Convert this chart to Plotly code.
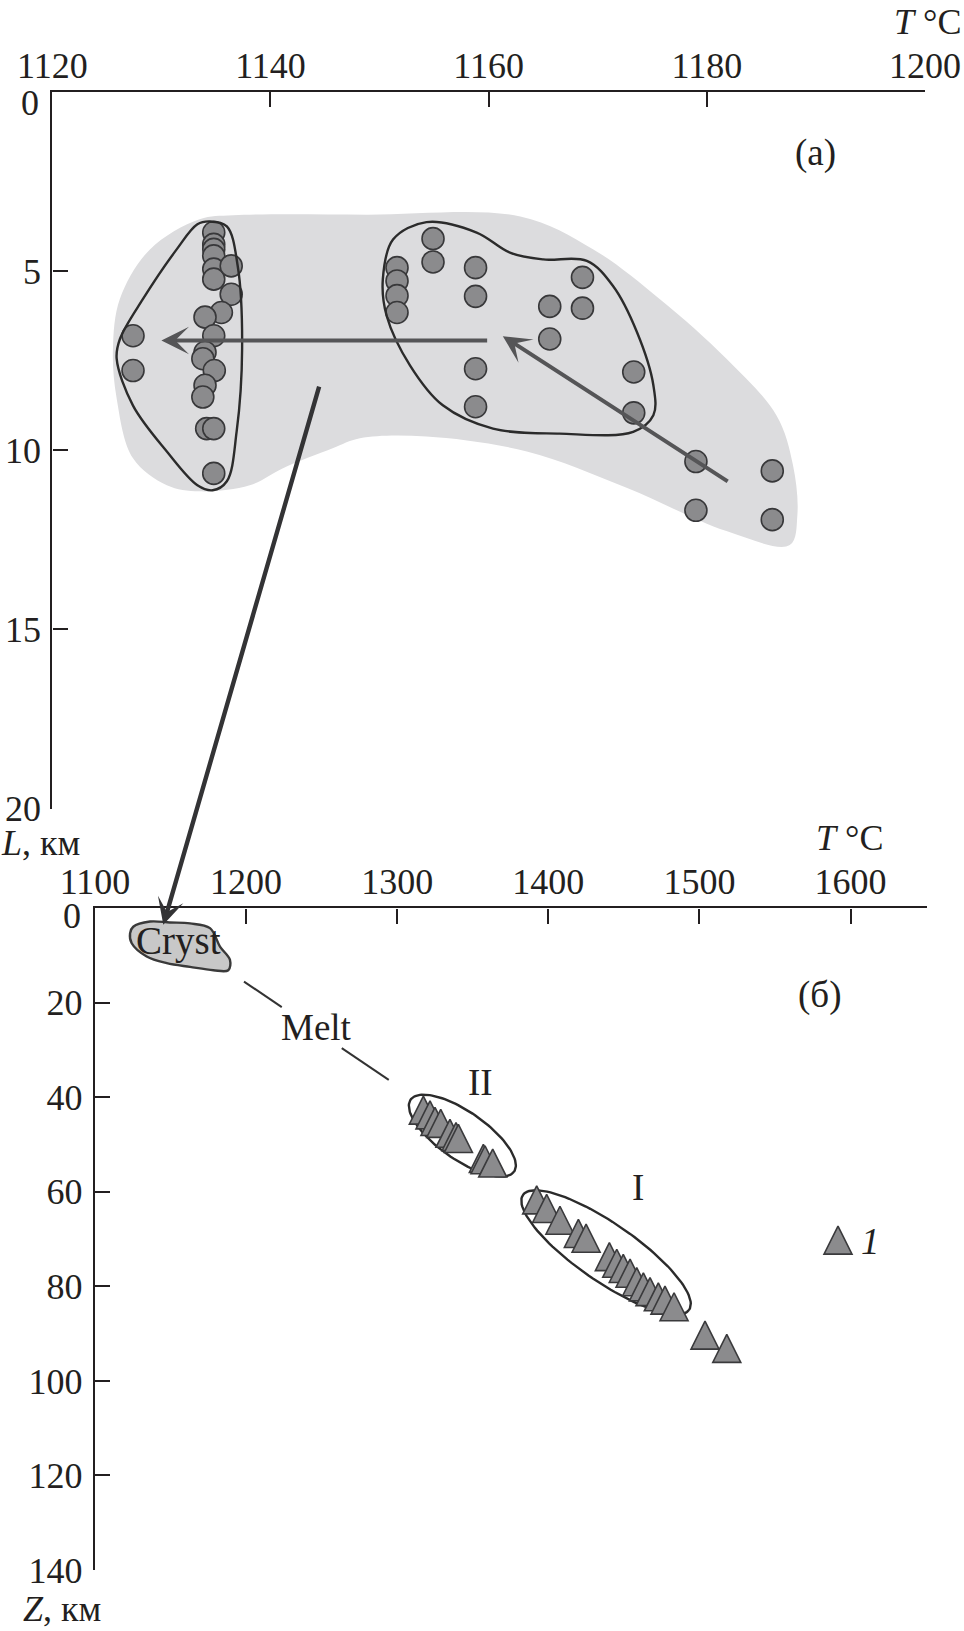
import numpy as np
import plotly.graph_objects as go

W, H = 964, 1631
FONT = "Liberation Serif, Times New Roman, serif"
INK = "#231f20"

# ---------------- panel (а): T (°C) vs L (km) ----------------
a_T = [1134.8, 1134.8, 1134.8, 1134.8, 1134.8, 1134.8, 1136.4, 1136.4, 1135.5, 1134.0,
       1134.8, 1134.0, 1133.8, 1134.85, 1134.0, 1133.8, 1134.15, 1134.8, 1134.8, 1127.4, 1127.4,
       1151.6, 1151.6, 1151.6, 1151.6, 1154.9, 1154.9, 1158.8, 1158.8, 1158.8, 1158.8,
       1165.6, 1165.6, 1168.6, 1168.6, 1173.3, 1173.3, 1179.0, 1179.0, 1186.0, 1186.0]
a_L = [3.93, 4.26, 4.40, 4.58, 4.95, 5.23, 4.86, 5.65, 6.16, 6.29,
       6.81, 7.27, 7.45, 7.78, 8.19, 8.52, 9.40, 9.40, 10.65, 6.81, 7.78,
       4.91, 5.28, 5.69, 6.16, 4.10, 4.75, 4.91, 5.71, 7.73, 8.79,
       5.99, 6.90, 5.18, 6.04, 7.82, 8.96, 10.32, 11.68, 10.58, 11.94]

# grey envelope
env_T = [1126.2, 1128.95, 1133.5, 1136.6, 1148.8, 1162.9, 1169.6, 1175.7, 1181.8, 1186.4,
         1187.9, 1188.3, 1187.6, 1181.8, 1172.7, 1163.5, 1154.3, 1148.2, 1145.7, 1141.1,
         1138.1, 1133.5, 1130.5, 1127.4, 1125.9, 1125.56]
env_L = [5.78, 4.40, 3.56, 3.45, 3.43, 3.48, 4.40, 5.79, 7.45, 9.04,
         10.42, 11.81, 12.65, 12.26, 11.06, 10.04, 9.62, 9.67, 9.95, 10.51,
         10.98, 11.15, 10.98, 10.23, 8.56, 7.17]
# left contour
left_T = [1137.4, 1136.9, 1136.0, 1134.7, 1133.3, 1130.5, 1127.4, 1125.9, 1126.2, 1128.3,
          1131.4, 1133.3, 1134.45, 1136.0, 1137.0]
left_L = [7.17, 9.48, 10.87, 11.12, 10.98, 10.04, 8.76, 7.45, 6.90, 5.79,
          4.40, 3.70, 3.62, 3.76, 4.87]
# right contour
right_T = [1165.0, 1169.0, 1171.4, 1173.6, 1175.1, 1175.1, 1173.25, 1166.5, 1160.4, 1155.8,
           1152.8, 1150.65, 1150.3, 1151.25, 1154.3, 1158.9, 1161.95]
right_L = [4.68, 4.72, 5.42, 6.71, 8.19, 9.03, 9.49, 9.54, 9.40, 8.75,
           7.64, 6.25, 5.23, 4.12, 3.64, 3.93, 4.49]

# arrows (tail -> head)
arr_h = dict(T0=1160.0, L0=6.94, T1=1130.0, L1=6.94)
arr_d = dict(T0=1182.05, L0=10.9, T1=1161.3, L1=6.82)
arr_long = dict(T0=1144.5, L0=8.19, T1=1145.2, Z1=3.5)

# ---------------- panel (б): T (°C) vs Z (km) ----------------
b_T = [1317.3, 1321.7, 1325.0, 1328.8, 1334.9, 1338.9, 1340.5, 1357.0, 1358.1, 1363.2,
       1392.3, 1398.9, 1407.7, 1419.9, 1425.0, 1440.4, 1445.3, 1449.6, 1454.1, 1458.5,
       1462.9, 1467.3, 1472.8, 1477.2, 1483.2, 1503.7, 1518.1]
b_Z = [42.7, 43.7, 45.1, 45.5, 47.6, 48.3, 48.7, 52.9, 53.2, 53.9,
       61.7, 63.5, 66.0, 68.8, 69.8, 73.7, 75.1, 76.2, 77.2, 79.0,
       80.1, 81.1, 82.2, 82.9, 84.3, 90.3, 93.1]

cryst_T = [1125.3, 1136.4, 1149.6, 1162.9, 1176.1, 1182.7, 1189.3, 1188.2, 1178.3, 1162.9,
           1147.5, 1134.2, 1124.3, 1123.2]
cryst_Z = [3.9, 2.8, 3.0, 3.2, 4.2, 8.1, 10.9, 13.1, 13.1, 12.4,
           11.6, 10.2, 7.4, 5.3]
melt_T = [1198.6, 1223.6, None, 1263.3, 1294.4]
melt_Z = [15.5, 20.9, None, 29.6, 36.3]

# ellipses: centre (T, Z), semi-axes (px), tilt (deg)
ell_II = dict(T=1343.1, Z=48.1, a=63, b=24, ang=34.8)
ell_I = dict(T=1438.2, Z=72.8, a=101, b=29, ang=34.6)

legend_T, legend_Z = 1591.7, 70.2

# ---------------- axes geometry ----------------
XA_DOM = [52.3 / W, 925.0 / W]
YA_DOM = [1 - 808.5 / H, 1 - 91.7 / H]
XA_RNG = [1120, 1200]
YA_RNG = [20, 0]
XB_DOM = [95.0 / W, 927.0 / W]
YB_DOM = [1 - 1570.0 / H, 1 - 908.3 / H]
XB_RNG = [1100, 1650.6]
YB_RNG = [140, 0]


def to_paper(v, rng, dom):
    f = (v - rng[0]) / (rng[1] - rng[0])
    return dom[0] + f * (dom[1] - dom[0])


kxB = (XB_DOM[1] - XB_DOM[0]) * W / (XB_RNG[1] - XB_RNG[0])
kzB = (YB_DOM[1] - YB_DOM[0]) * H / (YB_RNG[0] - YB_RNG[1])


def ellipse(e, n=120):
    t = np.linspace(0, 2 * np.pi, n)
    th = np.radians(e["ang"])
    dx = e["a"] * np.cos(t) * np.cos(th) - e["b"] * np.sin(t) * np.sin(th)
    dy = e["a"] * np.cos(t) * np.sin(th) + e["b"] * np.sin(t) * np.cos(th)
    return e["T"] + dx / kxB, e["Z"] + dy / kzB


fig = go.Figure()

# envelope
fig.add_trace(go.Scatter(x=env_T + env_T[:1], y=env_L + env_L[:1], mode="lines",
                         line=dict(shape="spline", width=0, color="#dcdcde", smoothing=1),
                         fill="toself", fillcolor="#dcdcde", xaxis="x", yaxis="y",
                         hoverinfo="skip"))
# circles
fig.add_trace(go.Scatter(x=a_T, y=a_L, mode="markers", xaxis="x", yaxis="y",
                         marker=dict(size=22, color="#8b8b8d",
                                     line=dict(color="#38383a", width=1.6))))
# contours
for cx, cy in [(left_T, left_L), (right_T, right_L)]:
    fig.add_trace(go.Scatter(x=cx + cx[:1], y=cy + cy[:1], mode="lines", xaxis="x", yaxis="y",
                             line=dict(shape="spline", color="#2b2b2b", width=2.4, smoothing=1),
                             hoverinfo="skip"))

# bottom panel: cryst blob
fig.add_trace(go.Scatter(x=cryst_T + cryst_T[:1], y=cryst_Z + cryst_Z[:1], mode="lines",
                         xaxis="x2", yaxis="y2", fill="toself", fillcolor="#c8c8c8",
                         line=dict(shape="spline", color="#3a3a3a", width=2.4, smoothing=1),
                         hoverinfo="skip"))
fig.add_trace(go.Scatter(x=melt_T, y=melt_Z, mode="lines", xaxis="x2", yaxis="y2",
                         line=dict(color="#333333", width=2), hoverinfo="skip"))
for e in (ell_II, ell_I):
    ex, ey = ellipse(e)
    fig.add_trace(go.Scatter(x=ex, y=ey, mode="lines", xaxis="x2", yaxis="y2",
                             line=dict(color="#2b2b2b", width=2.4), hoverinfo="skip"))

TRI = 28
dz = (TRI / 2) / kzB  # arrow-up symbol has its apex at the point
fig.add_trace(go.Scatter(x=b_T, y=[z - dz for z in b_Z], mode="markers", xaxis="x2", yaxis="y2",
                         marker=dict(symbol="arrow-up", size=TRI, color="#8b8b8d",
                                     line=dict(color="#3a3a3c", width=1.6))))
fig.add_trace(go.Scatter(x=[legend_T], y=[legend_Z - dz], mode="markers", xaxis="x2", yaxis="y2",
                         marker=dict(symbol="arrow-up", size=TRI, color="#8b8b8d",
                                     line=dict(color="#3a3a3c", width=1.6))))

ann = []
for a in (arr_h, arr_d):
    ann.append(dict(x=a["T1"], y=a["L1"], ax=a["T0"], ay=a["L0"], xref="x", yref="y",
                    axref="x", ayref="y", text="", showarrow=True, arrowhead=3,
                    arrowsize=1.15, arrowwidth=4, arrowcolor="#555557", standoff=0))
# long arrow crossing the two panels
hx = to_paper(arr_long["T1"], XB_RNG, XB_DOM)
hy = to_paper(arr_long["Z1"], YB_RNG, YB_DOM)
tx = to_paper(arr_long["T0"], XA_RNG, XA_DOM)
ty = to_paper(arr_long["L0"], YA_RNG, YA_DOM)
ann.append(dict(x=hx, y=hy, xref="paper", yref="paper", ax=(tx - hx) * W, ay=-(ty - hy) * H,
                axref="pixel", ayref="pixel", text="", showarrow=True, arrowhead=3,
                arrowsize=1.0, arrowwidth=4.4, arrowcolor="#333335", standoff=0))


def label(text, x, y, xref, yref, size=37, xanchor="center", yanchor="middle"):
    ann.append(dict(text=text, x=x, y=y, xref=xref, yref=yref, showarrow=False,
                    font=dict(family=FONT, size=size, color=INK),
                    xanchor=xanchor, yanchor=yanchor, borderpad=0))


label("(а)", 1190.0, 1.7, "x", "y")
label("(б)", 1579.4, 18.3, "x2", "y2")
label("Cryst", 1155.5, 7.0, "x2", "y2", size=39)
label("Melt", 1246.3, 25.2, "x2", "y2")
label("II", 1354.8, 36.8, "x2", "y2")
label("I", 1459.6, 59.0, "x2", "y2")
label("<i>1</i>", 1612.9, 70.4, "x2", "y2")
# axis titles and the corner zeros
label("<i>T</i> °C", 962 / W, 1 - 22 / H, "paper", "paper", size=36, xanchor="right")
label("<i>T</i> °C", 884 / W, 1 - 838 / H, "paper", "paper", size=36, xanchor="right")
label("<i>L</i>, км", 0 / W, 1 - 843 / H, "paper", "paper", size=36, xanchor="left")
label("<i>Z</i>, км", 22 / W, 1 - 1609 / H, "paper", "paper", size=36, xanchor="left")
label("0", 40 / W, 1 - 103 / H, "paper", "paper", size=36, xanchor="right")
label("0", 82 / W, 1 - 916 / H, "paper", "paper", size=36, xanchor="right")

axis_common = dict(showline=True, linecolor=INK, linewidth=2.4, ticks="inside", ticklen=15,
                   tickwidth=2, tickcolor=INK, showgrid=False, zeroline=False,
                   automargin=False,
                   tickfont=dict(family=FONT, size=36, color=INK), fixedrange=True)

fig.update_layout(
    width=W, height=H, margin=dict(l=0, r=0, t=0, b=0, autoexpand=False),
    paper_bgcolor="white", plot_bgcolor="rgba(0,0,0,0)", showlegend=False,
    xaxis=dict(domain=XA_DOM, range=XA_RNG, anchor="y", side="top",
               tickvals=[1120, 1140, 1160, 1180, 1200], ticklabelstandoff=-3, **axis_common),
    yaxis=dict(domain=YA_DOM, range=YA_RNG, anchor="x", side="left",
               tickvals=[0, 5, 10, 15, 20], ticktext=["", "5", "10", "15", "20"],
               ticklabelstandoff=2, **axis_common),
    xaxis2=dict(domain=XB_DOM, range=XB_RNG, anchor="y2", side="top",
                tickvals=[1100, 1200, 1300, 1400, 1500, 1600], ticklabelstandoff=-2, **axis_common),
    yaxis2=dict(domain=YB_DOM, range=YB_RNG, anchor="x2", side="left",
                tickvals=[0, 20, 40, 60, 80, 100, 120, 140],
                ticktext=["", "20", "40", "60", "80", "100", "120", "140"],
                ticklabelstandoff=3, **axis_common),
    annotations=ann,
)

fig.write_html("out.html", config={"displayModeBar": False},
               post_script="document.body.style.margin='0px';"
                           "document.body.style.padding='0px';"
                           "document.body.style.overflow='hidden';")
